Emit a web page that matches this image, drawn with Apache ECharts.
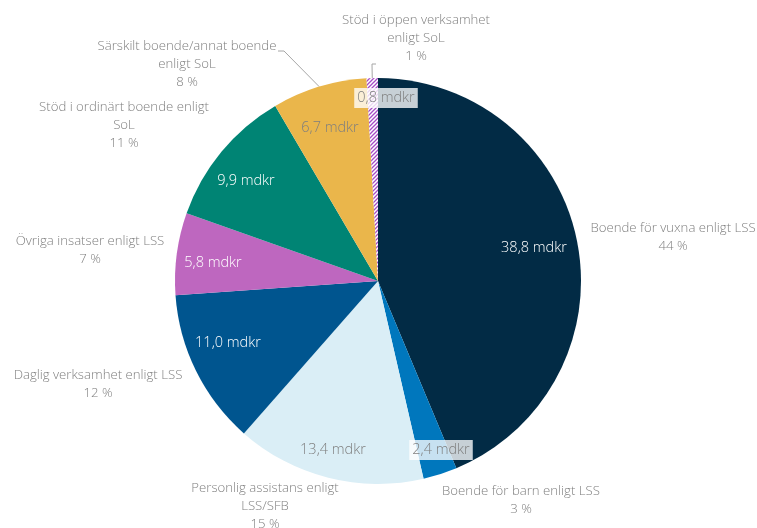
<!DOCTYPE html>
<html>
<head>
<meta charset="utf-8">
<script src="https://cdn.jsdelivr.net/npm/echarts@6/dist/echarts.min.js"></script>
<style>
  html, body { margin: 0; padding: 0; background: #fff; }
  #chart { width: 757px; height: 528px; }
</style>
</head>
<body>
<div id="chart"></div>
<script>
// Kostnader per insats, miljarder kronor (mdkr)
const categories = [
  'Boende för vuxna enligt LSS',
  'Boende för barn enligt LSS',
  'Personlig assistans enligt\nLSS/SFB',
  'Daglig verksamhet enligt LSS',
  'Övriga insatser enligt LSS',
  'Stöd i ordinärt boende enligt\nSoL',
  'Särskilt boende/annat boende\nenligt SoL',
  'Stöd i öppen verksamhet\nenligt SoL'
];
const costs = [38.8, 2.4, 13.4, 11.0, 5.8, 9.9, 6.7, 0.8];

// Slice colours, in the same order as the categories
const sliceColors = ['#022B45', '#0077BD', '#DAEEF6', '#00558F', '#BE67BF', '#008474', '#EAB64B', null];
// Value label text colour per slice
const valueTextColors = ['#ffffff', '#7f7f7f', '#7f7f7f', '#ffffff', '#ffffff', '#ffffff', '#7f7f7f', '#7f7f7f'];
// Slices whose value label sits on a light box
const boxedValue = [false, true, false, false, false, false, false, true];

// Label anchor points (centre of each text block), in pixels
const valueSpots = [[534, 248], [441, 450], [333, 450], [228, 343], [213, 263], [246, 181], [330, 128], [386, 98]];
const nameSpots = [[673, 237], [521, 500], [265, 506], [98, 384], [90, 250], [124, 125], [187, 64], [416, 38]];
// Leader lines: where the line meets the text block (relative to its centre)
// and the length of the short horizontal stub next to the text
const leaderEnds = [null, null, null, null, null, null, [91, -13, 6], [-40, 26, -4]];

const FONT = '"Open Sans", "Noto Sans", sans-serif';

// Diagonal purple hatch for the smallest slice
const hatch = document.createElement('canvas');
hatch.width = 4; hatch.height = 4;
(function () {
  const g = hatch.getContext('2d');
  g.fillStyle = '#ffffff';
  g.fillRect(0, 0, 4, 4);
  g.strokeStyle = '#A64CC6';
  g.lineWidth = 1.3;
  g.beginPath();
  g.moveTo(0, 4); g.lineTo(4, 0);
  g.moveTo(-1, 1); g.lineTo(1, -1);
  g.moveTo(3, 5); g.lineTo(5, 3);
  g.stroke();
})();

const fmtValue = v => v.toFixed(1).replace('.', ',') + ' mdkr';

const center = [378, 281];
const radius = 203;

// Point on the rim at the middle of slice i
const total = costs.reduce((a, b) => a + b, 0);
function rimPoint(i) {
  const before = costs.slice(0, i).reduce((a, b) => a + b, 0);
  const ang = (before + costs[i] / 2) / total * 2 * Math.PI;
  return [center[0] + radius * Math.sin(ang), center[1] - radius * Math.cos(ang)];
}

const sliceData = categories.map((name, i) => ({
  name,
  value: costs[i],
  itemStyle: { color: sliceColors[i] || { image: hatch, repeat: 'repeat' } },
  label: {
    color: valueTextColors[i],
    backgroundColor: boxedValue[i] ? 'rgba(255,255,255,0.78)' : 'transparent',
    padding: boxedValue[i] ? [3, 3, 2, 3] : 0
  }
}));

const nameData = categories.map((name, i) => ({
  name,
  value: costs[i],
  labelLine: { show: !!leaderEnds[i] }
}));

const chart = echarts.init(document.getElementById('chart'), null, { renderer: 'canvas' });
chart.setOption({
  backgroundColor: '#ffffff',
  animation: false,
  series: [
    {
      type: 'pie',
      center,
      radius: [0, radius],
      startAngle: 90,
      clockwise: true,
      avoidLabelOverlap: false,
      silent: true,
      itemStyle: { borderWidth: 0 },
      label: {
        show: true,
        position: 'inside',
        fontFamily: FONT,
        fontWeight: 300,
        fontSize: 14.5,
        formatter: p => fmtValue(p.value)
      },
      labelLayout: p => ({
        x: valueSpots[p.dataIndex][0],
        y: valueSpots[p.dataIndex][1],
        align: 'center',
        verticalAlign: 'middle'
      }),
      labelLine: { show: false },
      data: sliceData
    },
    {
      type: 'pie',
      center,
      radius: [0, radius],
      startAngle: 90,
      clockwise: true,
      avoidLabelOverlap: false,
      silent: true,
      itemStyle: { color: 'rgba(0,0,0,0)', borderWidth: 0 },
      label: {
        show: true,
        position: 'outside',
        fontFamily: FONT,
        fontWeight: 300,
        fontSize: 13.2,
        lineHeight: 18,
        color: '#808080',
        formatter: p => p.name + '\n' + Math.round(p.percent) + ' %'
      },
      labelLine: {
        show: false,
        length: 10,
        length2: 6,
        lineStyle: { color: '#A6A6A6', width: 1 }
      },
      labelLayout: p => {
        const i = p.dataIndex;
        const spot = nameSpots[i];
        const out = { x: spot[0], y: spot[1], align: 'center', verticalAlign: 'middle' };
        const lead = leaderEnds[i];
        if (lead) {
          const end = [spot[0] + lead[0], spot[1] + lead[1]];
          const bend = [end[0] + lead[2], end[1]];
          out.labelLinePoints = [rimPoint(i), bend, end];
        }
        return out;
      },
      data: nameData
    }
  ]
});
</script>
</body>
</html>
